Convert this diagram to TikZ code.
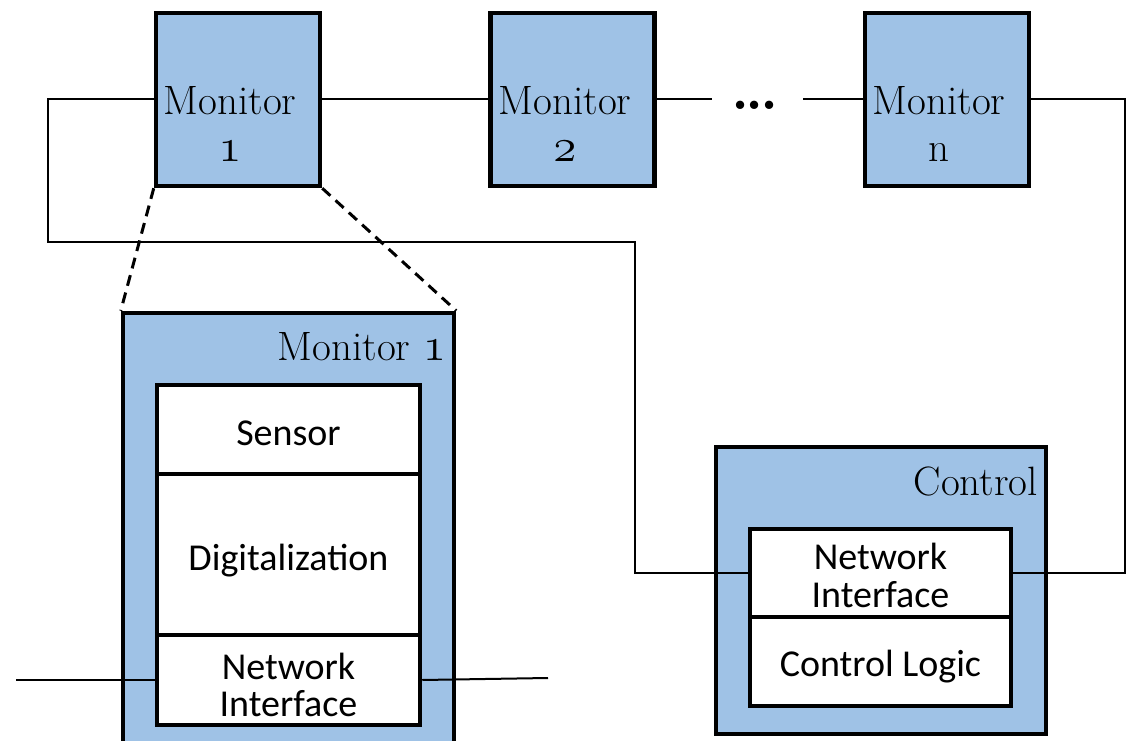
\documentclass[tikz,border=0pt]{standalone}
\usepackage{fix-cm}
\usepackage{fontspec}
\newfontfamily\carlito{Carlito}
\definecolor{boxblue}{HTML}{9FC2E6}
% old-style figures taken from the math italic font, set a little larger
\newcommand\osfig[1]{{\usefont{OML}{cmm}{m}{it}\fontsize{47}{47}\selectfont#1}}
\begin{document}
\begin{tikzpicture}[x=1pt,y=-1pt,
  mon/.style={draw, line width=4.5pt, fill=boxblue, minimum width=164pt, minimum height=173pt, inner sep=0pt},
  outerbox/.style={draw, line width=4.5pt, fill=boxblue, inner sep=0pt},
  cell/.style={draw, line width=4.5pt, fill=white, inner sep=0pt},
  serif/.style={inner sep=0pt, align=center, font=\fontsize{41}{47}\selectfont},
  sans/.style={inner sep=0pt, align=center, font=\carlito\fontsize{38}{37.5}\selectfont},
  wire/.style={line width=2pt, line join=miter},
  zoomline/.style={line width=3pt, dash pattern=on 11pt off 7pt}]
\useasboundingbox (0,0) rectangle (1128,741);
\clip (0,0) rectangle (1128,741);

% ring of monitors
\node[mon] (m1) at (238,99.5) {};
\node[mon] (m2) at (572.5,99.5) {};
\node[mon] (mn) at (947,99.5) {};
\node[serif, anchor=south] (m1t) at (230,162) {Monitor\\\osfig{1}};
\node[serif, anchor=south] (m2t) at (565,162) {Monitor\\\osfig{2}};
\node[serif, anchor=south] (mnt) at (939,162) {Monitor\\n};
\node[serif, anchor=base, font=\bfseries\fontsize{58}{58}\selectfont] (dots) at (755,110) {.\kern-3.5pt.\kern-3.5pt.};

% detail of monitor 1
\node[outerbox, minimum width=331pt, minimum height=487pt] (bm1) at (288.5,556.5) {};
\node[serif, anchor=base east] (bm1t) at (446,360) {Monitor \osfig{1}};
\node[cell, minimum width=263pt, minimum height=89pt] (sens) at (288.5,429.5) {};
\node[cell, minimum width=263pt, minimum height=161pt] (digi) at (288.5,554.5) {};
\node[cell, minimum width=263pt, minimum height=90pt] (ni1) at (288.5,680) {};
\node[sans, anchor=base] (senst) at (288.5,445) {Sensor};
\node[sans, anchor=base] (digit) at (288.5,570) {Digitalization};
\node[sans, anchor=south] (ni1t) at (288.5,717) {Network\\Interface};

% control unit
\node[outerbox, minimum width=330pt, minimum height=287pt] (ctl) at (881,590.5) {};
\node[serif, anchor=base east] (ctlt) at (1038,495) {Control};
\node[cell, minimum width=261pt, minimum height=88pt] (cni) at (880.5,573) {};
\node[cell, minimum width=261pt, minimum height=89pt] (logic) at (880.5,661.5) {};
\node[sans, anchor=south, font=\carlito\fontsize{38}{38}\selectfont] (cnit) at (880.5,608) {Network\\Interface};
\node[sans, anchor=base] (logict) at (880.5,676) {Control Logic};

% zoom from monitor 1 to its detail
\draw[zoomline] (m1.south west) -- (bm1.north west);
\draw[zoomline] (m1.south east) -- (bm1.north east);

% network wiring
\coordinate (la) at (48,242);
\coordinate (lb) at (635,242);
\coordinate (d1) at (712,99.5);
\coordinate (d2) at (803,99.5);
\coordinate (rc) at (1125,573);
\coordinate (wl) at (16,680);
\coordinate (wr) at (548,678);
\draw[wire] (m1.west) -| (la) -- (lb) |- (cni.west);
\draw[wire] (m1.east) -- (m2.west);
\draw[wire] (m2.east) -- (d1);
\draw[wire] (d2) -- (mn.west);
\draw[wire] (mn.east) -| (rc) -- (cni.east);
\draw[wire] (wl) -- (ni1.west);
\draw[wire] (ni1.east) -- (wr);
\end{tikzpicture}
\end{document}
